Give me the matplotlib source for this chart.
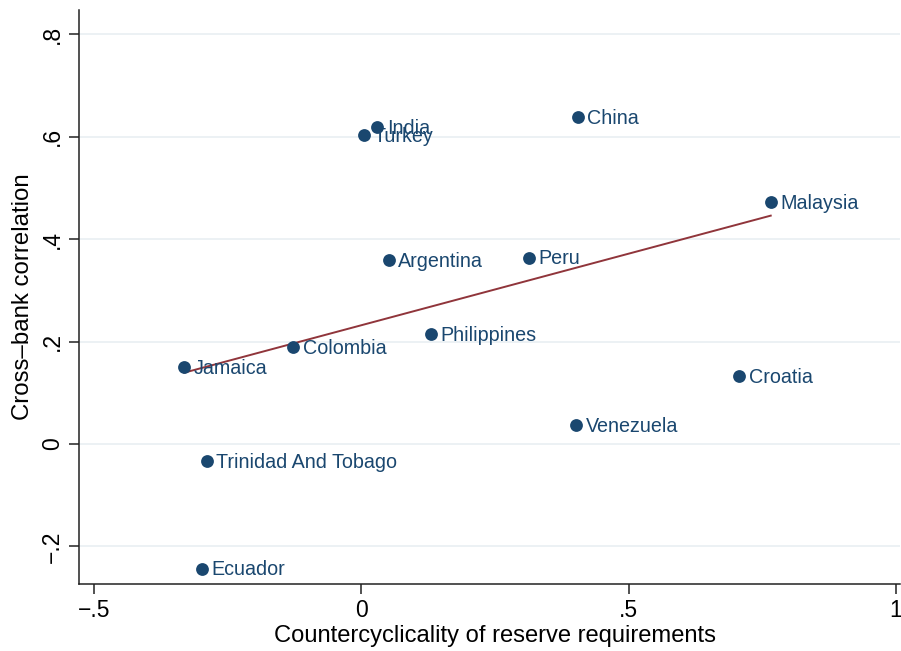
import matplotlib

matplotlib.use("Agg")

import matplotlib.pyplot as plt
import numpy as np

countries = [
    "Ecuador", "Trinidad And Tobago", "Jamaica", "Colombia", "Argentina",
    "Turkey", "India", "China", "Peru", "Philippines", "Malaysia",
    "Croatia", "Venezuela",
]
countercyclicality = [
    -0.298, -0.289, -0.331, -0.128, 0.051,
    0.005, 0.030, 0.405, 0.313, 0.130, 0.766,
    0.707, 0.402,
]
correlation = [
    -0.243, -0.034, 0.151, 0.190, 0.360,
    0.604, 0.618, 0.639, 0.364, 0.215, 0.473,
    0.133, 0.037,
]

x_ticks = [-0.5, 0, 0.5, 1]
x_tick_labels = ["\u2212.5", "0", ".5", "1"]
y_ticks = [-0.2, 0, 0.2, 0.4, 0.6, 0.8]
y_tick_labels = ["\u2212.2", "0", ".2", ".4", ".6", ".8"]

navy = "#1a476f"
maroon = "#90353b"

plt.rcParams["font.family"] = ["Liberation Sans", "DejaVu Sans"]

fig = plt.figure(figsize=(9.01, 6.51), dpi=100)
ax = fig.add_axes([0.0877, 0.1034, 0.9113, 0.881])

x = np.array(countercyclicality)
y = np.array(correlation)

# light horizontal grid like stata's s2color scheme
for t in y_ticks:
    ax.axhline(t, color="#eaf0f3", lw=1.3, zorder=0)

ax.scatter(x, y, s=85, color=navy, zorder=3, linewidths=0)
for name, xi, yi in zip(countries, x, y):
    ax.annotate(name, (xi, yi), xytext=(7, -1), textcoords="offset points",
                va="center", ha="left", color=navy, fontsize=14.2, zorder=4)

# linear fit over the observed range
slope, intercept = np.polyfit(x, y, 1)
xs = np.array([x.min(), x.max()])
ax.plot(xs, intercept + slope * xs, color=maroon, lw=1.4, zorder=2)

ax.set_xlim(-0.528, 1.008)
ax.set_ylim(-0.2726, 0.847)
ax.set_xticks(x_ticks)
ax.set_xticklabels(x_tick_labels, fontsize=16.5)
ax.set_yticks(y_ticks)
ax.set_yticklabels(y_tick_labels, fontsize=16.5, rotation=90, va="center")
ax.tick_params(length=7, width=1.1, color="#222222", pad=4)

for side in ["top", "right"]:
    ax.spines[side].set_visible(False)
for side in ["left", "bottom"]:
    ax.spines[side].set_linewidth(1.1)
    ax.spines[side].set_color("#222222")

ax.set_xlabel("Countercyclicality of reserve requirements", fontsize=17.1, labelpad=4)
ax.xaxis.set_label_coords(0.5067, -0.072)
ax.set_ylabel("Cross\u2013bank correlation", fontsize=17.3, labelpad=5)

fig.savefig("out.png", dpi=100)
